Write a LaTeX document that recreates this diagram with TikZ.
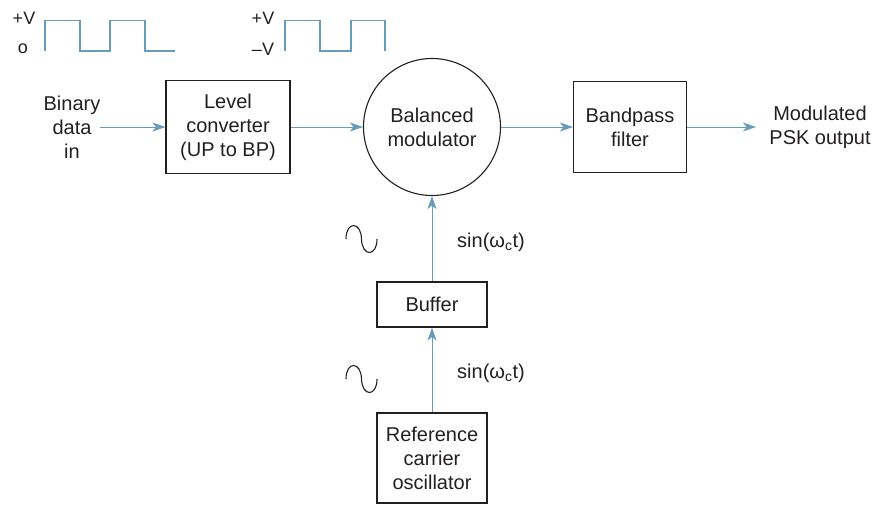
\documentclass[tikz,border=0pt]{standalone}
\usepackage{fontspec}
\setmainfont{Liberation Sans}
\usetikzlibrary{arrows.meta}
\definecolor{wave}{RGB}{104,156,186}
\definecolor{ink}{RGB}{35,31,32}
\begin{document}
\begin{tikzpicture}[x=1pt,y=-1pt,
  every node/.style={text=ink,font=\fontsize{20}{24}\selectfont},
  blk/.style={draw=ink,line width=1.1pt,align=center,inner sep=0pt},
  lbl/.style={align=center,inner sep=0pt},
  small/.style={lbl,font=\fontsize{18}{22}\selectfont},
  conn/.style={draw=wave,line width=1pt,-{Stealth[length=13pt,width=9pt,inset=3.5pt]}},
  wv/.style={draw=wave,line width=1.2pt},
  sine/.style={draw=ink,line width=1.1pt}]
\useasboundingbox (0,0) rectangle (878,504);
% waveforms
\node[small] (pv1) at (24,18) {+V};
\node[small] (z1) at (23,49) {o};
\draw[wv] (45,51) -- (45,20.5) -- (80,20.5) -- (80,51) -- (110,51) -- (110,20.5) -- (145,20.5) -- (145,51) -- (175,51);
\node[small] (pv2) at (263,18) {+V};
\node[small] (mv2) at (263,49) {\textendash V};
\draw[wv] (285,51) -- (285,20.5) -- (320,20.5) -- (320,51) -- (351,51) -- (351,20.5) -- (385,20.5) -- (385,51);
% blocks
\node[lbl] (bin) at (72,127) {Binary\\data\\in};
\coordinate (binout) at (100,127);
\node[blk,minimum width=124pt,minimum height=93pt] (lvl) at (228,127) {Level\\converter\\(UP to BP)};
\node[blk,circle,minimum size=137pt] (mod) at (432,127) {Balanced\\modulator};
\node[blk,minimum width=113pt,minimum height=91pt] (bpf) at (630,127) {Bandpass\\filter};
\node[lbl] (out) at (820,127) {Modulated\\PSK output};
\coordinate (outin) at (756,127);
\node[blk,minimum width=110pt,minimum height=45pt] (buf) at (432,304.5) {Buffer};
\node[blk,minimum width=110pt,minimum height=90pt] (ref) at (432,458) {Reference\\carrier\\oscillator};
% labels
\node[lbl] (s1) at (491,242) {sin(ω\textsubscript{c}t)};
\node[lbl] (s2) at (491,373) {sin(ω\textsubscript{c}t)};
% sine glyphs
\draw[sine] (346,239) .. controls (346,221) and (361,221) .. (361.5,239) .. controls (362,257) and (377,257) .. (377,239);
\draw[sine] (346,379) .. controls (346,361) and (361,361) .. (361.5,379) .. controls (362,397) and (377,397) .. (377,379);
% connectors
\draw[conn] (binout) -- (lvl.west);
\draw[conn] (lvl.east) -- (mod.west);
\draw[conn] (mod.east) -- (bpf.west);
\draw[conn] (bpf.east) -- (outin);
\draw[conn] (buf.north) -- (mod.south);
\draw[conn] (ref.north) -- (buf.south);
\end{tikzpicture}
\end{document}
